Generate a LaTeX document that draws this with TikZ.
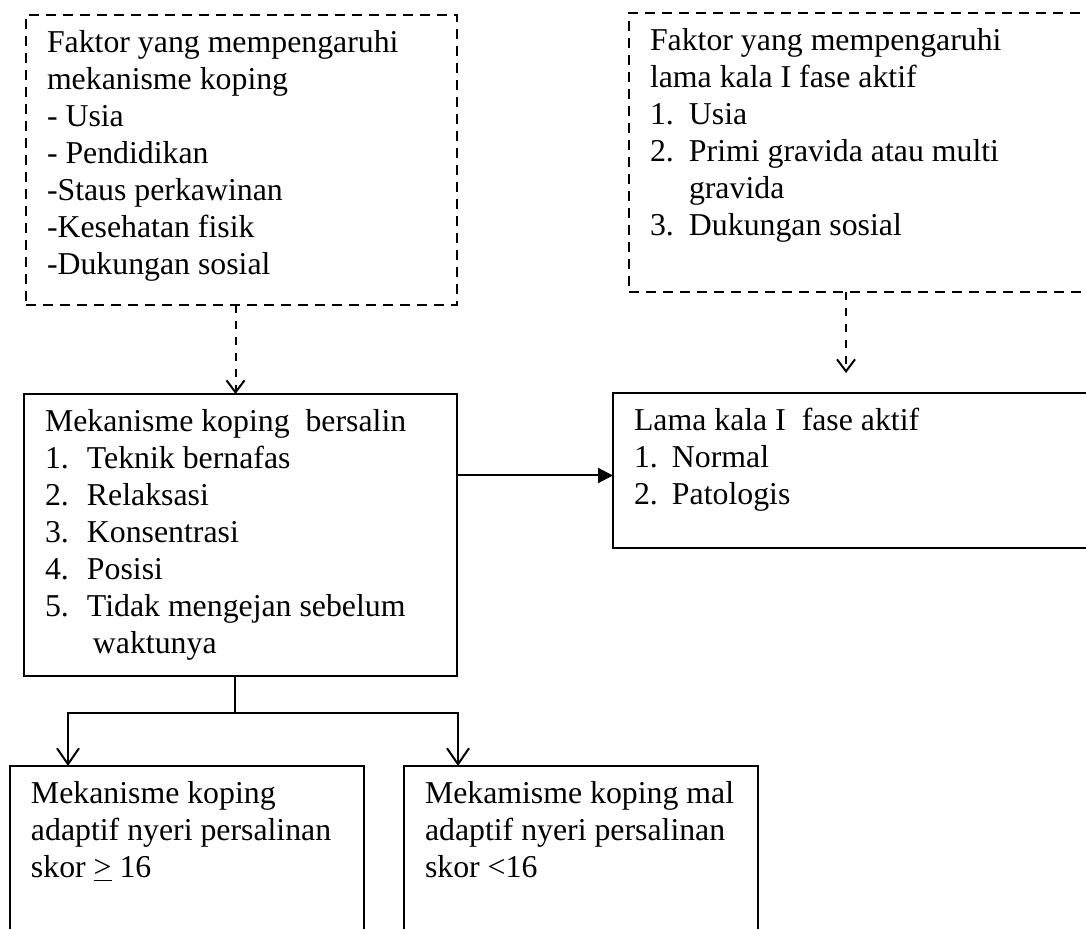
\documentclass[tikz,border=0pt]{standalone}
\usepackage{fontspec}
\setmainfont{Liberation Serif}
\usetikzlibrary{arrows.meta}
\newcommand{\boxtxt}[3]{\parbox[t][#2][t]{#1}{\fontsize{15.9}{18.5}\selectfont\strut #3}}
\newcommand{\nr}[2][21pt]{\makebox[#1][l]{#2}}

\begin{document}
\begin{tikzpicture}[x=0.5pt,y=-0.5pt,
    box/.style={draw,line width=1pt,anchor=north west,inner xsep=10.5pt,inner ysep=6pt,outer sep=0pt},
    dbox/.style={box,dash pattern=on 5pt off 3.5pt},
    darr/.style={line width=1pt,dash pattern=on 4pt off 4pt,-{Straight Barb[length=6pt,width=9pt]}},
    arr/.style={line width=1pt,-{Straight Barb[length=8pt,width=11pt]}}]
    \useasboundingbox (0,0) rectangle (1086,929);
    \clip (0,0) rectangle (1086,929);
    \node[dbox] (fkop) at (26,15) {\boxtxt{194.5pt}{133pt}{Faktor yang mempengaruhi\\ mekanisme koping\\ - Usia\\ - Pendidikan\\ -Staus perkawinan\\ -Kesehatan fisik\\ -Dukungan sosial}};
    \node[dbox] (flama) at (629,13) {\boxtxt{260pt}{127.5pt}{Faktor yang mempengaruhi\\ lama kala I fase aktif\\ \nr[19.5pt]{1.}Usia\\ \nr[19.5pt]{2.}Primi gravida atau multi\\ \hspace*{19.5pt}gravida\\ \nr[19.5pt]{3.}Dukungan sosial}};
    \node[box] (meka) at (24,394) {\boxtxt{195.5pt}{129pt}{Mekanisme koping\ \ bersalin\\ \nr{1.}Teknik bernafas\\ \nr{2.}Relaksasi\\ \nr{3.}Konsentrasi\\ \nr{4.}Posisi\\ \nr{5.}Tidak mengejan sebelum\\ \hspace*{24pt}waktunya}};
    \node[box] (lama) at (613,393) {\boxtxt{260pt}{65.5pt}{Lama kala I\ \ fase aktif\\ \nr[19pt]{1.}Normal\\ \nr[19pt]{2.}Patologis}};
    \node[box] (adap) at (10,766) {\boxtxt{156pt}{100pt}{Mekanisme koping\\ adaptif nyeri persalinan\\ skor \underline{>} 16}};
    \node[box] (mal) at (404,766) {\boxtxt{156pt}{100pt}{Mekamisme koping mal\\ adaptif nyeri persalinan\\ skor <16}};
    \coordinate (cab) at (235,713);
    % dashed arrows
    \draw[darr] ([xshift=-3pt]fkop.south) -- ([xshift=-3pt]fkop.south |- meka.north);
    \draw[darr] ([xshift=108.5pt]flama.south west) -- ([xshift=108.5pt,yshift=10pt]flama.south west |- lama.north);
    \draw[line width=1pt,-{Triangle[length=7.5pt,width=7.5pt]}] ([yshift=-2.5pt]meka.east |- lama.west) -- ([yshift=-2.5pt]lama.west);
    \draw[line width=0.6pt] (meka.south -| cab) -- (cab);
    \draw[arr] (cab) -| ([xshift=29pt]adap.north west);
    \draw[arr] (cab) -| ([xshift=27pt]mal.north west);
\end{tikzpicture}
\end{document}
